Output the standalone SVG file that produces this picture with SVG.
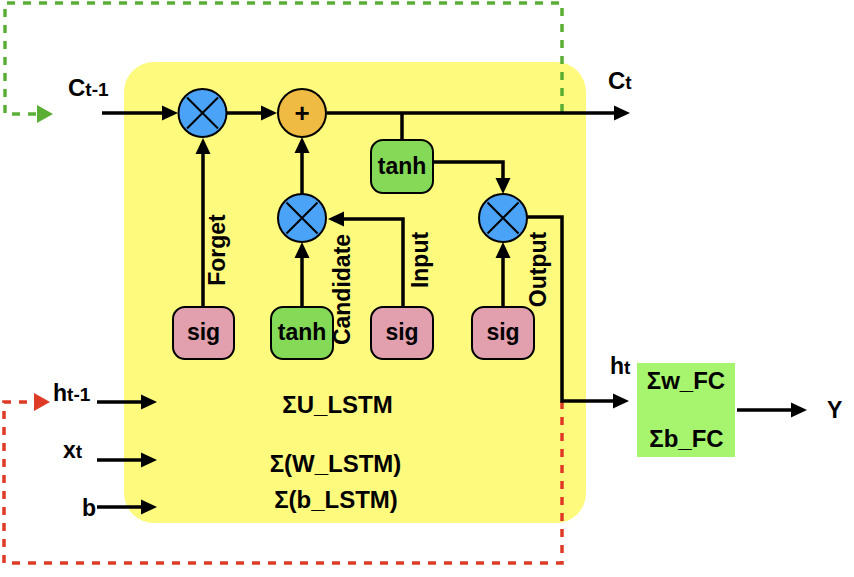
<svg xmlns="http://www.w3.org/2000/svg" width="854" height="577" viewBox="0 0 854 577">
<defs>
<marker id="ah" markerUnits="userSpaceOnUse" markerWidth="16" markerHeight="16" refX="8" refY="7.5" orient="auto" viewBox="0 0 16 15">
<path d="M0,0 L16,7.5 L0,15 z" fill="#000"/>
</marker>
</defs>
<style>
text{font-family:"Liberation Sans",Arial,Helvetica,sans-serif;font-weight:bold;fill:#000}
.lbl{font-size:23px}
.sum{font-size:24px}
.big{font-size:23px}
.cbig{font-size:24px}
.sm{font-size:19px}
.box{stroke:#000;stroke-width:2}
.sig{fill:#E2A0AE}
.tanh{fill:#84D957}
.mul{fill:#4AA3F6;stroke:#000;stroke-width:2}
.add{fill:#EFBB42;stroke:#000;stroke-width:2}
.x{stroke:#000;stroke-width:2}
.c{fill:none;stroke:#000;stroke-width:3.5}
.a{marker-end:url(#ah)}
.mid{text-anchor:middle}
.rot{font-size:23px;text-anchor:middle}
</style>
<g id="cell">
<rect x="124" y="62" width="462" height="461" rx="30" fill="#FEFA7E"/>
</g>
<g id="feedback">
<path d="M562,112 V3 H5 V114 H37" fill="none" stroke="#5BAE34" stroke-width="3.5" stroke-dasharray="8,8"/>
<path d="M37,105 L53,114 L37,123 z" fill="#5BAE34"/>
<path d="M562,401 V563 H4 V402 H34" fill="none" stroke="#DE3B27" stroke-width="3.5" stroke-dasharray="8,8"/>
<path d="M34,393 L50,402 L34,411 z" fill="#DE3B27"/>
</g>
<g id="connectors">
<path class="c a" d="M102,113 H170"/>
<path class="c a" d="M227,113 H269"/>
<path class="c a" d="M327,113 H622"/>
<path class="c" d="M402,113 V140"/>
<path class="c a" d="M433,162 H503 V186"/>
<path class="c a" d="M203,307 V146"/>
<path class="c a" d="M302,307 V250"/>
<path class="c a" d="M302,194 V145"/>
<path class="c a" d="M403,307 V219 H336"/>
<path class="c a" d="M503,307 V250"/>
<path class="c a" d="M527,217 H562 V401 H621"/>
<path class="c a" d="M97,402 H149"/>
<path class="c a" d="M97,460 H149"/>
<path class="c a" d="M97,507 H149"/>
<path class="c a" d="M737,410 H799"/>
</g>
<g id="mul1">
<circle class="mul" cx="202.5" cy="113" r="24"/>
<path class="x" d="M187,97.5 L218,128.5 M218,97.5 L187,128.5"/>
</g>
<g id="add1">
<circle class="add" cx="302" cy="113" r="24"/>
<text class="mid" x="302" y="122" style="font-size:26px">+</text>
</g>
<g id="mul2">
<circle class="mul" cx="302" cy="218" r="24"/>
<path class="x" d="M286.5,202.5 L317.5,233.5 M317.5,202.5 L286.5,233.5"/>
</g>
<g id="mul3">
<circle class="mul" cx="503" cy="218" r="24"/>
<path class="x" d="M487.5,202.5 L518.5,233.5 M518.5,202.5 L487.5,233.5"/>
</g>
<g id="tanh_c">
<rect class="box tanh" x="371" y="140" width="62" height="53" rx="12"/>
<text class="lbl mid" x="402" y="174">tanh</text>
</g>
<g id="sig_f">
<rect class="box sig" x="173" y="307" width="61" height="52" rx="12"/>
<text class="lbl mid" x="203.5" y="340">sig</text>
</g>
<g id="tanh_g">
<rect class="box tanh" x="271" y="307" width="62" height="52" rx="12"/>
<text class="lbl mid" x="302" y="340">tanh</text>
</g>
<g id="sig_i">
<rect class="box sig" x="371" y="307" width="62" height="52" rx="12"/>
<text class="lbl mid" x="402" y="340">sig</text>
</g>
<g id="sig_o">
<rect class="box sig" x="472" y="307" width="62" height="52" rx="12"/>
<text class="lbl mid" x="503" y="340">sig</text>
</g>
<g id="gate_labels">
<text class="rot" transform="translate(224.5,250) rotate(-90)">Forget</text>
<text class="rot" transform="translate(349.5,289.5) rotate(-90)">Candidate</text>
<text class="rot" transform="translate(428,260) rotate(-90)">Input</text>
<text class="rot" transform="translate(546,269.5) rotate(-90)">Output</text>
</g>
<g id="sums">
<text class="sum mid" x="337.5" y="413">ΣU_LSTM</text>
<text class="sum mid" x="335.5" y="472">Σ(W_LSTM)</text>
<text class="sum mid" x="336" y="508">Σ(b_LSTM)</text>
</g>
<g id="io_labels">
<text x="68" y="96"><tspan class="cbig">C</tspan><tspan class="sm">t-1</tspan></text>
<text x="608" y="89"><tspan class="cbig">C</tspan><tspan class="sm">t</tspan></text>
<text x="53" y="401"><tspan class="big">h</tspan><tspan class="sm">t-1</tspan></text>
<text x="63" y="458"><tspan class="big">x</tspan><tspan class="sm">t</tspan></text>
<text class="big" x="82" y="516">b</text>
<text x="610" y="374"><tspan class="big">h</tspan><tspan class="sm">t</tspan></text>
<text class="big" x="827" y="418">Y</text>
</g>
<g id="fc">
<rect x="637" y="363" width="98" height="94" fill="#A7F56F"/>
<text class="sum mid" x="686" y="389">Σw_FC</text>
<text class="sum mid" x="686.5" y="447">Σb_FC</text>
</g>
</svg>
